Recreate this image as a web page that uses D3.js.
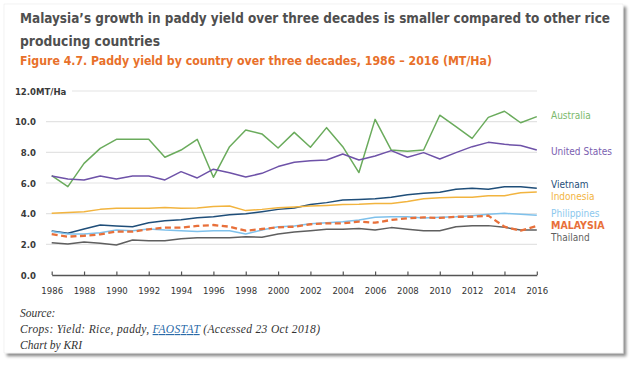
<!DOCTYPE html>
<html><head><meta charset="utf-8">
<script src="https://cdn.jsdelivr.net/npm/d3@7"></script>
<style>
html,body{margin:0;padding:0;background:#fff;}
svg{display:block;}
</style></head>
<body>
<svg id="chart" width="635" height="365"></svg>
<script>
const years = d3.range(1986, 2017);
const australia = [6.48,5.76,7.28,8.26,8.85,8.85,8.85,7.68,8.15,8.85,6.37,8.37,9.46,9.2,8.28,9.3,8.33,9.61,8.37,6.68,10.15,8.15,8.07,8.15,10.42,9.67,8.91,10.28,10.68,9.93,10.33];
const unitedStates = [6.45,6.26,6.2,6.46,6.26,6.46,6.46,6.2,6.74,6.33,6.9,6.67,6.39,6.63,7.07,7.35,7.45,7.5,7.89,7.5,7.76,8.11,7.68,7.98,7.57,7.98,8.37,8.65,8.52,8.44,8.15];
const vietnam = [2.87,2.72,3.0,3.26,3.2,3.15,3.41,3.54,3.6,3.74,3.8,3.93,4.0,4.13,4.28,4.37,4.6,4.72,4.89,4.93,4.98,5.07,5.24,5.33,5.39,5.59,5.65,5.59,5.76,5.76,5.65];
const indonesia = [4.02,4.07,4.13,4.28,4.35,4.35,4.35,4.41,4.35,4.37,4.46,4.5,4.2,4.28,4.39,4.44,4.5,4.54,4.59,4.61,4.67,4.67,4.8,4.98,5.04,5.07,5.07,5.17,5.17,5.37,5.41];
const philippines = [2.83,2.68,2.68,2.76,2.93,2.89,3.0,2.93,2.89,2.83,2.89,2.89,2.68,2.93,3.15,3.2,3.35,3.41,3.48,3.59,3.76,3.8,3.8,3.72,3.76,3.8,3.87,3.96,4.02,3.96,3.89];
const malaysia = [2.67,2.5,2.56,2.65,2.83,2.83,2.98,3.09,3.09,3.2,3.26,3.15,2.89,3.0,3.11,3.15,3.31,3.37,3.37,3.48,3.41,3.59,3.7,3.76,3.72,3.8,3.8,3.87,3.15,2.89,3.2];
const thailand = [2.11,2.02,2.15,2.07,1.96,2.28,2.24,2.24,2.37,2.43,2.43,2.43,2.5,2.46,2.67,2.8,2.89,2.98,2.98,3.04,2.93,3.09,2.98,2.89,2.89,3.15,3.22,3.22,3.11,2.93,2.93];
const yTicks = [0, 2, 4, 6, 8, 10, 12];
const xTicks = d3.range(1986, 2017, 2);

const series = [
  {name:"Australia", values:australia, color:"#6aab5c", label:"#7bb96c", ly:115, bold:false},
  {name:"United States", values:unitedStates, color:"#6e52a8", label:"#7a60b0", ly:151, bold:false},
  {name:"Vietnam", values:vietnam, color:"#1f4e79", label:"#1f4e79", ly:184, bold:false},
  {name:"Indonesia", values:indonesia, color:"#f2b43f", label:"#f2b43f", ly:196.5, bold:false},
  {name:"Philippines", values:philippines, color:"#7fc1eb", label:"#8cc8ee", ly:213, bold:false},
  {name:"Thailand", values:thailand, color:"#5f5f5f", label:"#5f5f5f", ly:237, bold:false},
  {name:"MALAYSIA", values:malaysia, color:"#e8703a", label:"#e8703a", ly:225, bold:true, dash:"6,3.5"}
];

const svg = d3.select("#chart");
const cond = "'Liberation Sans Narrow','DejaVu Sans Condensed','Roboto Condensed',sans-serif";

// card with shadow
const defs = svg.append("defs");
const f = defs.append("filter").attr("id","sh").attr("x","-5%").attr("y","-5%").attr("width","112%").attr("height","115%");
f.append("feDropShadow").attr("dx",3).attr("dy",3).attr("stdDeviation",1.6).attr("flood-color","#000").attr("flood-opacity",0.45);
svg.append("rect").attr("x",4).attr("y",4).attr("width",619).attr("height",349).attr("fill","#fff").attr("stroke","#e6e6e6").attr("stroke-width",0.5).attr("filter","url(#sh)");

// titles
svg.append("text").attr("x",20).attr("y",23).attr("font-family",cond).attr("font-weight","bold").attr("font-size",13.5).attr("fill","#4f4f4f")
  .attr("textLength",590).attr("lengthAdjust","spacingAndGlyphs")
  .text("Malaysia\u2019s growth in paddy yield over three decades is smaller compared to other rice");
svg.append("text").attr("x",20).attr("y",46).attr("font-family",cond).attr("font-weight","bold").attr("font-size",13.5).attr("fill","#4f4f4f")
  .attr("textLength",140).attr("lengthAdjust","spacingAndGlyphs")
  .text("producing countries");
svg.append("text").attr("x",20).attr("y",65).attr("font-family",cond).attr("font-weight","bold").attr("font-size",12.5).attr("fill","#e8702a")
  .attr("textLength",472).attr("lengthAdjust","spacingAndGlyphs")
  .text("Figure 4.7. Paddy yield by country over three decades, 1986 \u2013 2016 (MT/Ha)");

const x = d3.scaleLinear().domain([1986, 2016]).range([51.7, 536.8]);
const y = d3.scaleLinear().domain([0, 12]).range([275, 91]);

// gridlines
svg.append("g").selectAll("line").data(yTicks.filter(d => d > 0)).join("line")
  .attr("x1", d => d === 12 ? 72 : 46).attr("x2", 537)
  .attr("y1", d => y(d)).attr("y2", d => y(d))
  .attr("stroke","#e3e3e3").attr("stroke-width",1.2);

// y labels
const yl = svg.append("g").attr("font-family",cond).attr("font-weight","bold").attr("font-size",9.5).attr("fill","#3a3a3a");
yl.selectAll("text").data(yTicks).join("text")
  .attr("x",36).attr("y", d => y(d) + 3.5).attr("text-anchor","end")
  .text(d => d.toFixed(1));
yl.append("text").attr("x",36).attr("y",y(12)+3.5).text("MT/Ha");

// x axis
const xAxis = d3.axisBottom(x).tickValues(xTicks).tickFormat(d3.format("d")).tickSizeInner(-3.5).tickSizeOuter(0).tickPadding(12);
const gx = svg.append("g").attr("transform","translate(0,275)").call(xAxis);
gx.select(".domain").attr("stroke","#555").attr("stroke-width",1.5);
gx.selectAll(".tick line").attr("stroke","#555").attr("stroke-width",1.2);
gx.selectAll(".tick text").attr("font-family",cond).attr("font-size",9.5).attr("fill","#333");

// lines
const line = d3.line().x((d,i) => x(years[i])).y(d => y(d));
svg.append("g").selectAll("path").data(series).join("path")
  .attr("d", s => line(s.values))
  .attr("fill","none")
  .attr("stroke", s => s.color)
  .attr("stroke-width", s => s.dash ? 2.3 : 1.5)
  .attr("stroke-dasharray", s => s.dash || null)
  .attr("stroke-linejoin","round");

// labels
svg.append("g").selectAll("text").data(series).join("text")
  .attr("x",551).attr("y", s => s.ly + 3.5)
  .attr("font-family",cond).attr("font-size", s => s.bold ? 10.5 : 10)
  .attr("font-weight", s => s.bold ? "bold" : "normal")
  .attr("fill", s => s.label)
  .text(s => s.name);

// source
const src = svg.append("g").attr("font-family","'Liberation Serif','DejaVu Serif',serif").attr("font-style","italic").attr("font-size",11.5).attr("fill","#333");
src.append("text").attr("x",20).attr("y",317).text("Source:");
const t2 = src.append("text").attr("x",20).attr("y",333).attr("textLength",300).attr("lengthAdjust","spacing");
t2.append("tspan").text("Crops: Yield: Rice, paddy, ");
t2.append("tspan").attr("fill","#2a6aa8").attr("text-decoration","underline").text("FAOSTAT");
t2.append("tspan").text(" (Accessed 23 Oct 2018)");
src.append("text").attr("x",20).attr("y",349).text("Chart by KRI");
</script>
</body></html>
